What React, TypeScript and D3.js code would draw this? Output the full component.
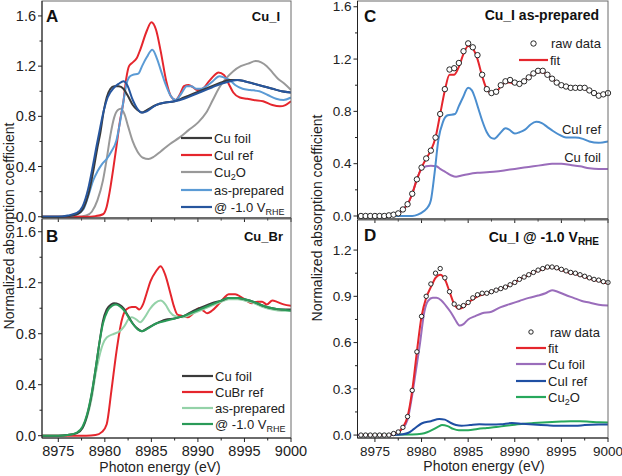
import React from 'react';
import * as d3 from 'd3';

type Pt = [number, number];

// ---------- Panel A (Cu_I) ----------
const aCuFoil: Pt[] = [[8973.25,0],[8975,0],[8976,0.005],[8977,0.02],[8977.7,0.07],[8978.3,0.2],[8978.8,0.38],[8979.2,0.55],[8979.5,0.66],[8979.9,0.85],[8980.2,0.95],[8980.6,1.02],[8981,1.04],[8981.5,1.04],[8982,1.02],[8982.5,0.96],[8983,0.89],[8983.5,0.85],[8984,0.83],[8984.5,0.85],[8985.5,0.89],[8986.5,0.91],[8987.5,0.92],[8988.5,0.95],[8989.5,0.98],[8990.5,1.01],[8991.5,1.04],[8992.5,1.07],[8993.4,1.09],[8994.2,1.09],[8995,1.08],[8996,1.06],[8997,1.04],[8998,1.02],[8999,1.0],[9000,0.99]];
const aCuIRef: Pt[] = [[8973.25,0],[8978,0],[8979,0.005],[8979.8,0.02],[8980.2,0.08],[8980.5,0.19],[8980.9,0.38],[8981.25,0.56],[8981.6,0.75],[8982,0.92],[8982.3,1.1],[8982.6,1.2],[8983,1.23],[8983.4,1.26],[8983.8,1.33],[8984.5,1.48],[8985,1.55],[8985.5,1.49],[8986,1.32],[8986.6,1.08],[8987.1,0.96],[8987.6,0.93],[8988.1,0.98],[8988.5,1.04],[8989,1.05],[8989.5,1.03],[8989.9,1.01],[8990.5,1.02],[8991.2,1.08],[8991.8,1.13],[8992.2,1.15],[8992.8,1.13],[8993.3,1.06],[8993.8,0.99],[8994.5,0.95],[8995.3,0.94],[8996,0.93],[8997,0.92],[8998,0.89],[8998.8,0.88],[8999.4,0.89],[9000,0.92]];
const aCu2O: Pt[] = [[8973.25,0],[8977,0],[8978,0.01],[8978.6,0.04],[8979.2,0.13],[8979.8,0.29],[8980.2,0.46],[8980.6,0.65],[8981,0.79],[8981.4,0.85],[8981.7,0.86],[8982.1,0.82],[8982.5,0.72],[8983,0.6],[8983.5,0.52],[8984.1,0.47],[8984.7,0.46],[8985.3,0.48],[8986,0.52],[8987,0.58],[8988,0.63],[8989,0.69],[8990,0.75],[8990.9,0.83],[8991.6,0.93],[8992.3,1.03],[8993,1.1],[8993.8,1.16],[8994.6,1.2],[8995.4,1.22],[8996.2,1.24],[8996.8,1.23],[8997.4,1.2],[8998,1.15],[8998.6,1.1],[8999.3,1.06],[9000,1.01]];
const aAsPrep: Pt[] = [[8973.25,0],[8975,0],[8976,0.005],[8977,0.02],[8977.7,0.06],[8978.2,0.16],[8978.75,0.29],[8979.2,0.36],[8979.7,0.42],[8980.2,0.46],[8980.7,0.52],[8981.25,0.61],[8981.6,0.74],[8982,0.92],[8982.3,1.05],[8982.6,1.11],[8983,1.13],[8983.6,1.14],[8984,1.2],[8984.5,1.27],[8985.1,1.33],[8985.6,1.26],[8986,1.17],[8986.5,1.06],[8987.1,0.96],[8987.6,0.93],[8988.2,0.98],[8988.8,1.04],[8989.3,1.04],[8989.8,1.02],[8990.4,1.02],[8990.9,1.04],[8991.6,1.08],[8992.3,1.12],[8992.8,1.11],[8993.4,1.09],[8994,1.05],[8994.8,1.02],[8995.6,1.01],[8996.6,1.0],[8997.5,0.97],[8998.4,0.94],[8999.2,0.93],[9000,0.95]];
const aElectro: Pt[] = [[8973.25,0],[8975,0],[8976,0.01],[8977,0.03],[8977.6,0.08],[8978.2,0.22],[8978.7,0.4],[8979.1,0.56],[8979.5,0.71],[8979.9,0.85],[8980.3,0.95],[8981,1.03],[8981.5,1.06],[8982,1.08],[8982.4,1.05],[8983,0.93],[8983.5,0.86],[8984,0.83],[8984.5,0.84],[8985.5,0.89],[8986.5,0.91],[8987.5,0.92],[8988.5,0.94],[8989.5,0.97],[8990.5,1.0],[8991.5,1.03],[8992.5,1.06],[8993.5,1.08],[8994.3,1.09],[8995,1.08],[8996,1.06],[8997,1.04],[8998,1.02],[8999,1.0],[9000,0.99]];

// ---------- Panel B (Cu_Br) ----------
const bCuFoil: Pt[] = [[8973.25,0],[8975,0],[8976,0.005],[8977,0.02],[8977.6,0.06],[8978.1,0.16],[8978.6,0.33],[8979,0.52],[8979.4,0.72],[8979.8,0.9],[8980.2,0.99],[8980.7,1.03],[8981,1.04],[8981.5,1.03],[8982,1.0],[8982.5,0.94],[8983,0.88],[8983.5,0.84],[8984,0.82],[8984.5,0.84],[8985.5,0.88],[8986.5,0.91],[8987.5,0.92],[8988.5,0.94],[8989.5,0.98],[8990.5,1.01],[8991.5,1.04],[8992.5,1.06],[8993.3,1.08],[8994.3,1.08],[8995,1.07],[8996,1.05],[8997,1.02],[8998,1.0],[8999,0.99],[9000,0.99]];
const bCuBrRef: Pt[] = [[8973.25,0],[8978,0],[8979,0.005],[8979.7,0.03],[8980.2,0.09],[8980.7,0.35],[8981.25,0.66],[8981.8,0.9],[8982.3,0.99],[8982.9,1.01],[8983.3,1.01],[8983.7,0.99],[8984.1,1.03],[8984.5,1.12],[8984.9,1.21],[8985.5,1.29],[8986,1.33],[8986.5,1.26],[8987,1.13],[8987.4,1.02],[8987.8,0.95],[8988.3,0.94],[8988.9,0.93],[8989.5,0.96],[8990.1,1.0],[8990.6,0.98],[8991,0.96],[8991.5,0.98],[8992.2,1.03],[8992.8,1.08],[8993.3,1.11],[8994,1.11],[8994.6,1.09],[8995.2,1.06],[8995.8,1.04],[8996.4,1.05],[8996.9,1.05],[8997.4,1.03],[8998,1.06],[8998.5,1.05],[8999.2,1.03],[9000,1.02]];
const bAsPrep: Pt[] = [[8973.25,0],[8975,0],[8976,0.005],[8977,0.02],[8977.6,0.06],[8978.1,0.15],[8978.6,0.3],[8979,0.48],[8979.4,0.62],[8979.8,0.72],[8980.2,0.77],[8981,0.8],[8981.6,0.82],[8982.1,0.86],[8982.6,0.92],[8982.9,0.93],[8983.4,0.91],[8983.8,0.89],[8984.3,0.93],[8984.8,0.99],[8985.4,1.04],[8986,1.06],[8986.5,1.03],[8987,0.97],[8987.5,0.94],[8988.4,0.93],[8989.5,0.96],[8990.5,0.99],[8991.5,1.02],[8992.5,1.05],[8993.3,1.07],[8994.3,1.07],[8995,1.06],[8996,1.04],[8997,1.01],[8998,0.99],[8999,0.98],[9000,0.98]];
const bElectro: Pt[] = [[8973.25,0],[8975,0],[8976,0.005],[8977,0.025],[8977.6,0.07],[8978.1,0.17],[8978.6,0.34],[8979,0.52],[8979.4,0.72],[8979.8,0.88],[8980.3,0.98],[8980.8,1.02],[8981.2,1.03],[8981.7,1.01],[8982.2,0.97],[8982.7,0.91],[8983.2,0.86],[8983.6,0.83],[8984,0.82],[8984.6,0.84],[8985.5,0.88],[8986.5,0.9],[8987.5,0.92],[8988.5,0.94],[8989.5,0.97],[8990.5,1.0],[8991.5,1.03],[8992.5,1.06],[8993.3,1.08],[8994.3,1.08],[8995,1.07],[8996,1.05],[8997,1.02],[8998,1.0],[8999,0.99],[9000,0.98]];

// ---------- Panels C / D: raw data & fits on a 0.5 eV grid ----------
const rawEnergy: number[] = d3.range(8973.5, 9000.01, 0.5);
const cRaw: number[] = [0,0,0,0,0,0,0.005,0.01,0.02,0.05,0.09,0.17,0.28,0.37,0.44,0.5,0.6,0.78,0.97,1.12,1.13,1.17,1.26,1.32,1.29,1.23,1.08,0.97,0.94,0.95,1.0,1.03,1.04,1.02,1.01,1.03,1.06,1.09,1.11,1.11,1.08,1.05,1.02,1.0,0.99,0.98,0.98,0.98,0.98,0.96,0.94,0.92,0.93,0.94];
const cFit: number[] = [0,0,0,0,0,0,0.005,0.01,0.02,0.05,0.09,0.17,0.28,0.37,0.44,0.5,0.6,0.78,0.96,1.08,1.08,1.14,1.24,1.3,1.28,1.2,1.07,0.97,0.94,0.95,0.99,1.02,1.02,1.01,1.01,1.03,1.06,1.09,1.1,1.1,1.08,1.05,1.02,1.0,0.99,0.98,0.98,0.98,0.97,0.96,0.94,0.93,0.93,0.94];
const cCuIRef: Pt[] = [[8973.13,0],[8979,0],[8979.6,0.01],[8980.3,0.04],[8980.7,0.07],[8981,0.12],[8981.4,0.33],[8981.8,0.58],[8982.3,0.72],[8982.8,0.77],[8983.6,0.78],[8984,0.84],[8984.4,0.9],[8985,0.98],[8985.4,0.96],[8985.7,0.91],[8986.1,0.82],[8986.5,0.73],[8987,0.64],[8987.4,0.6],[8987.8,0.59],[8988.4,0.63],[8989,0.67],[8989.4,0.66],[8990,0.63],[8990.5,0.64],[8991.1,0.66],[8991.7,0.7],[8992.3,0.72],[8992.9,0.71],[8993.5,0.68],[8994.1,0.65],[8994.8,0.62],[8995.5,0.6],[8996.5,0.6],[8997.3,0.59],[8998,0.57],[8999,0.56],[9000,0.57]];
const cCuFoil: Pt[] = [[8973.13,0],[8976,0],[8977,0.01],[8977.5,0.02],[8978,0.05],[8978.5,0.09],[8979,0.17],[8979.5,0.28],[8980,0.36],[8980.5,0.38],[8981,0.385],[8981.6,0.38],[8982,0.36],[8982.5,0.34],[8983.2,0.31],[8983.7,0.3],[8984.3,0.31],[8985,0.32],[8986,0.33],[8987,0.335],[8988,0.34],[8989,0.35],[8990,0.36],[8991,0.37],[8992,0.38],[8993,0.39],[8994,0.4],[8995,0.4],[8996,0.39],[8997,0.38],[8998,0.365],[8999,0.36],[9000,0.36]];

const dRaw: number[] = [0,0,0,0,0,0,0,0.01,0.02,0.05,0.12,0.29,0.54,0.77,0.9,0.98,1.05,1.08,1.02,0.93,0.85,0.83,0.84,0.86,0.89,0.91,0.92,0.92,0.93,0.94,0.95,0.96,0.975,0.99,1.01,1.025,1.04,1.055,1.07,1.08,1.09,1.09,1.085,1.075,1.065,1.055,1.05,1.04,1.03,1.02,1.01,1.005,0.995,0.99];
const dFit: number[] = [0,0,0,0,0,0,0,0.01,0.02,0.05,0.12,0.29,0.54,0.77,0.89,0.96,1.02,1.04,1.01,0.93,0.85,0.82,0.83,0.86,0.88,0.9,0.91,0.92,0.93,0.94,0.95,0.96,0.975,0.99,1.01,1.025,1.04,1.055,1.065,1.075,1.085,1.09,1.08,1.07,1.06,1.05,1.045,1.035,1.025,1.015,1.005,1.0,0.99,0.985];
const dCuFoil: Pt[] = [[8973.13,0],[8976.5,0],[8977.3,0.01],[8977.9,0.04],[8978.5,0.1],[8979,0.26],[8979.4,0.42],[8979.8,0.58],[8980.3,0.8],[8980.7,0.87],[8981.2,0.89],[8981.6,0.89],[8982.1,0.875],[8982.6,0.84],[8983.1,0.8],[8983.6,0.75],[8984.1,0.71],[8984.5,0.72],[8985,0.75],[8985.7,0.77],[8986.5,0.79],[8987.5,0.8],[8988.5,0.83],[8989.5,0.85],[8990.5,0.87],[8991.5,0.89],[8992.5,0.905],[8993.3,0.92],[8994,0.94],[8994.6,0.93],[8995.4,0.91],[8996.3,0.89],[8997.2,0.87],[8998,0.86],[8999,0.845],[9000,0.84]];
const dCuIRef: Pt[] = [[8973.13,0],[8977,0],[8978,0.005],[8978.6,0.015],[8979.2,0.04],[8980,0.075],[8981,0.09],[8981.9,0.105],[8982.5,0.1],[8983.1,0.08],[8983.7,0.065],[8984.3,0.06],[8985.2,0.065],[8986.2,0.07],[8987.5,0.068],[8988.5,0.07],[8989.7,0.078],[8990.8,0.073],[8992,0.068],[8993.5,0.063],[8995,0.06],[8996.5,0.06],[8997.5,0.065],[8999,0.068],[9000,0.068]];
const dCu2O: Pt[] = [[8973.13,0],[8979,0.003],[8980,0.008],[8980.6,0.018],[8981.2,0.035],[8981.8,0.055],[8982.2,0.065],[8982.8,0.058],[8983.4,0.04],[8984,0.032],[8985,0.032],[8986,0.04],[8987,0.046],[8988,0.052],[8989,0.06],[8990,0.067],[8991,0.074],[8992,0.078],[8993,0.081],[8994,0.085],[8995,0.088],[8996,0.09],[8997,0.09],[8998,0.087],[8999,0.083],[9000,0.082]];

// ---------- ticks ----------
const xTicks: number[] = [8975, 8980, 8985, 8990, 8995, 9000];
const xMinor: number[] = [8977.5, 8982.5, 8987.5, 8992.5, 8997.5];
const yTicks16: number[] = [0, 0.4, 0.8, 1.2, 1.6];
const yMinor16: number[] = [0.2, 0.6, 1.0, 1.4];
const yTicksD: number[] = [0, 0.3, 0.6, 0.9, 1.2];
const yMinorD: number[] = [0.15, 0.45, 0.75, 1.05];

const FONT = "Arial, 'Liberation Sans', Helvetica, sans-serif";

const C = {
  foil: '#3a3a3a', red: '#e5262d', gray: '#999999', lblue: '#5b9bd5', dblue: '#27569e',
  lgreen: '#94d2a8', green: '#2a9a58', cblue: '#4b8ecf', purple: '#9a6dbb', d_blue: '#1f4fa3', d_green: '#27a85c',
};

interface PanelCfg {
  id: string; x0: number; x1: number; y0: number; y1: number;
  xDom: [number, number]; yDom: [number, number];
  yT: number[]; yM: number[]; xLabels: boolean; tickFs: number;
}

function Axes({ p }: { p: PanelCfg }) {
  const xs = d3.scaleLinear().domain(p.xDom).range([p.x0, p.x1]);
  const ys = d3.scaleLinear().domain(p.yDom).range([p.y1, p.y0]);
  const fmtY = d3.format('.1f');
  return (
    <g>
      <rect x={p.x0} y={p.y0} width={p.x1 - p.x0} height={p.y1 - p.y0} fill="none" stroke="#6a6a6a" strokeWidth={1} />
      <line x1={p.x0} x2={p.x0} y1={p.y0} y2={p.y1} stroke="#222" strokeWidth={1} />
      <line x1={p.x0} x2={p.x1} y1={p.y1} y2={p.y1} stroke="#222" strokeWidth={1} />
      {p.yT.map(t => (
        <g key={'yt' + t}>
          <line x1={p.x0 - 4} x2={p.x0} y1={ys(t)} y2={ys(t)} stroke="#222" />
          <text x={p.x0 - 6} y={ys(t)} dy="0.35em" textAnchor="end" fontSize={p.tickFs} fill="#222">{fmtY(t)}</text>
        </g>
      ))}
      {p.yM.map(t => (
        <line key={'ym' + t} x1={p.x0 - 2.5} x2={p.x0} y1={ys(t)} y2={ys(t)} stroke="#222" />
      ))}
      {xTicks.map(t => (
        <g key={'xt' + t}>
          <line x1={xs(t)} x2={xs(t)} y1={p.y1} y2={p.y1 + 4} stroke="#222" />
          {p.xLabels && <text x={xs(t)} y={456} textAnchor="middle" fontSize={p.tickFs} fill="#222">{t}</text>}
        </g>
      ))}
      {xMinor.map(t => (
        <line key={'xm' + t} x1={xs(t)} x2={xs(t)} y1={p.y1} y2={p.y1 + 2.5} stroke="#222" />
      ))}
    </g>
  );
}

function Lines({ p, series }: { p: PanelCfg; series: { data: Pt[]; color: string; w?: number }[] }) {
  const xs = d3.scaleLinear().domain(p.xDom).range([p.x0, p.x1]);
  const ys = d3.scaleLinear().domain(p.yDom).range([p.y1, p.y0]);
  const line = d3.line<Pt>().x(d => xs(d[0])).y(d => ys(d[1])).curve(d3.curveMonotoneX);
  return (
    <g clipPath={`url(#clip${p.id})`}>
      {series.map((s, i) => (
        <path key={i} d={line(s.data) || ''} fill="none" stroke={s.color} strokeWidth={s.w ?? 2} strokeLinejoin="round" />
      ))}
    </g>
  );
}

function Dots({ p, vals, r }: { p: PanelCfg; vals: number[]; r: number }) {
  const xs = d3.scaleLinear().domain(p.xDom).range([p.x0, p.x1]);
  const ys = d3.scaleLinear().domain(p.yDom).range([p.y1, p.y0]);
  return (
    <g>
      {vals.map((v, i) => (
        <circle key={i} cx={xs(rawEnergy[i])} cy={ys(v)} r={r} fill="#fff" stroke="#111" strokeWidth={0.9} />
      ))}
    </g>
  );
}

const pair = (e: number[], v: number[]): Pt[] => e.map((x, i) => [x, v[i]] as Pt);

function LegLine({ x, y, color, label, len = 31 }: { x: number; y: number; color: string; label: React.ReactNode; len?: number }) {
  return (
    <g>
      <line x1={x} x2={x + len} y1={y} y2={y} stroke={color} strokeWidth={2.2} />
      <text x={x + len + 2} y={y} dy="0.35em" fontSize={13} fill="#222">{label}</text>
    </g>
  );
}

const Cu2O = () => (<><tspan>Cu</tspan><tspan fontSize={9} dy={3}>2</tspan><tspan dy={-3}>O</tspan></>);
const VRHE = (<><tspan>@ -1.0 V</tspan><tspan fontSize={9} dy={3}>RHE</tspan></>);

export default function App() {
  const A: PanelCfg = { id: 'A', x0: 42, x1: 291, y0: 1, y1: 218, xDom: [8973.25, 9000], yDom: [-0.01, 1.719], yT: yTicks16, yM: yMinor16, xLabels: false, tickFs: 14.5 };
  const B: PanelCfg = { id: 'B', x0: 42, x1: 291, y0: 219, y1: 438, xDom: [8973.25, 9000], yDom: [-0.018, 1.70], yT: yTicks16, yM: yMinor16, xLabels: true, tickFs: 14.5 };
  const Cp: PanelCfg = { id: 'C', x0: 357.5, x1: 608, y0: 1, y1: 219, xDom: [8973.13, 9000], yDom: [-0.023, 1.644], yT: yTicks16, yM: yMinor16, xLabels: false, tickFs: 13.5 };
  const D: PanelCfg = { id: 'D', x0: 357.5, x1: 608, y0: 220, y1: 438, xDom: [8973.13, 9000], yDom: [-0.019, 1.395], yT: yTicksD, yM: yMinorD, xLabels: true, tickFs: 13.5 };
  const panels = [A, B, Cp, D];
  return (
    <svg width={622} height={476} style={{ display: 'block', position: 'absolute', left: 0, top: 0, background: '#fff' }} fontFamily={FONT}>
      <defs>
        {panels.map(p => (
          <clipPath key={p.id} id={'clip' + p.id}><rect x={p.x0} y={p.y0} width={p.x1 - p.x0} height={p.y1 - p.y0} /></clipPath>
        ))}
      </defs>
      <rect x={0} y={0} width={622} height={476} fill="#fff" />

      {/* Panel A */}
      <Lines p={A} series={[
        { data: aCu2O, color: C.gray }, { data: aCuIRef, color: C.red }, { data: aAsPrep, color: C.lblue },
        { data: aCuFoil, color: C.foil }, { data: aElectro, color: C.dblue },
      ]} />
      <Axes p={A} />
      <text x={46} y={22} fontSize={17} fontWeight="bold" fill="#111">A</text>
      <text x={280} y={21} fontSize={13} fontWeight="bold" textAnchor="end" fill="#111">Cu_I</text>
      <LegLine x={181} y={138} color={C.foil} label="Cu foil" />
      <LegLine x={181} y={155} color={C.red} label="CuI ref" />
      <LegLine x={181} y={172} color={C.gray} label={<Cu2O />} />
      <LegLine x={181} y={190} color={C.lblue} label="as-prepared" />
      <LegLine x={181} y={207} color={C.dblue} label={VRHE} />

      {/* Panel B */}
      <Lines p={B} series={[
        { data: bCuBrRef, color: C.red }, { data: bAsPrep, color: C.lgreen },
        { data: bCuFoil, color: C.foil }, { data: bElectro, color: C.green },
      ]} />
      <Axes p={B} />
      <text x={46} y={242} fontSize={17} fontWeight="bold" fill="#111">B</text>
      <text x={283} y={241} fontSize={13} fontWeight="bold" textAnchor="end" fill="#111">Cu_Br</text>
      <LegLine x={182} y={376} color={C.foil} label="Cu foil" />
      <LegLine x={182} y={392} color={C.red} label="CuBr ref" />
      <LegLine x={182} y={408} color={C.lgreen} label="as-prepared" />
      <LegLine x={182} y={424} color={C.green} label={VRHE} />
      <text x={160} y={472} fontSize={14} textAnchor="middle" fill="#222">Photon energy (eV)</text>
      <text transform="translate(14,226) rotate(-90)" fontSize={14} textAnchor="middle" fill="#222">Normalized absorption coefficient</text>

      {/* Panel C */}
      <Lines p={Cp} series={[
        { data: cCuFoil, color: C.purple }, { data: cCuIRef, color: C.cblue },
        { data: pair(rawEnergy, cFit), color: C.red },
      ]} />
      <Dots p={Cp} vals={cRaw} r={2.7} />
      <Axes p={Cp} />
      <text x={364} y={22} fontSize={17} fontWeight="bold" fill="#111">C</text>
      <text x={599} y={20} fontSize={14} fontWeight="bold" textAnchor="end" fill="#111">Cu_I as-prepared</text>
      <circle cx={533.5} cy={43.5} r={2.7} fill="#fff" stroke="#111" strokeWidth={0.9} />
      <text x={551} y={43.5} dy="0.35em" fontSize={13} fill="#222">raw data</text>
      <LegLine x={519} y={60} color={C.red} label="fit" len={29} />
      <text x={601} y={129} dy="0.35em" fontSize={13} textAnchor="end" fill="#222">CuI ref</text>
      <text x={601} y={157} dy="0.35em" fontSize={13} textAnchor="end" fill="#222">Cu foil</text>

      {/* Panel D */}
      <Lines p={D} series={[
        { data: dCu2O, color: C.d_green }, { data: dCuIRef, color: C.d_blue }, { data: dCuFoil, color: C.purple },
        { data: pair(rawEnergy, dFit), color: C.red },
      ]} />
      <Dots p={D} vals={dRaw} r={2.2} />
      <Axes p={D} />
      <text x={364} y={241} fontSize={17} fontWeight="bold" fill="#111">D</text>
      <text x={599} y={242} fontSize={14} fontWeight="bold" textAnchor="end" fill="#111">
        <tspan>Cu_I @ -1.0 V</tspan><tspan fontSize={10} dy={3}>RHE</tspan>
      </text>
      <circle cx={531} cy={332} r={2.2} fill="#fff" stroke="#111" strokeWidth={0.9} />
      <text x={550} y={332} dy="0.35em" fontSize={13} fill="#222">raw data</text>
      <LegLine x={516} y={348} color={C.red} label="fit" len={30} />
      <LegLine x={516} y={364} color={C.purple} label="Cu foil" len={30} />
      <LegLine x={516} y={381} color={C.d_blue} label="CuI ref" len={30} />
      <LegLine x={516} y={397} color={C.d_green} label={<Cu2O />} len={30} />
      <text x={484} y={471} fontSize={14} textAnchor="middle" fill="#222">Photon energy (eV)</text>
      <text transform="translate(322,218) rotate(-90)" fontSize={14} textAnchor="middle" fill="#222">Normalized absorption coefficient</text>
    </svg>
  );
}
